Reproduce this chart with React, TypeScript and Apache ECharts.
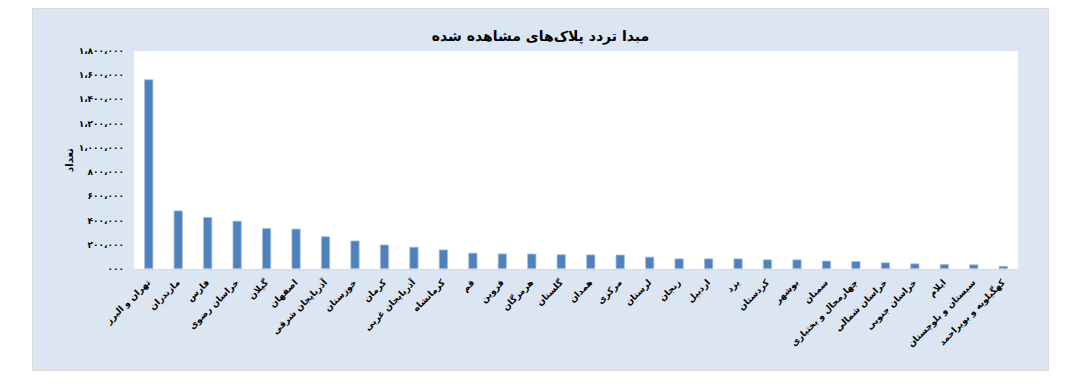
import React, { useEffect, useRef } from "react";
import * as echarts from "echarts";

const chartTitle = "مبدا تردد پلاک‌های مشاهده شده";
const yAxisTitle = "تعداد";

const provinces = [
  "تهران و البرز",
  "مازندران",
  "فارس",
  "خراسان رضوی",
  "گیلان",
  "اصفهان",
  "آذربایجان شرقی",
  "خوزستان",
  "کرمان",
  "آذربایجان غربی",
  "کرمانشاه",
  "قم",
  "قزوین",
  "هرمزگان",
  "گلستان",
  "همدان",
  "مرکزی",
  "لرستان",
  "زنجان",
  "اردبیل",
  "یزد",
  "کردستان",
  "بوشهر",
  "سمنان",
  "چهارمحال و بختیاری",
  "خراسان شمالی",
  "خراسان جنوبی",
  "ایلام",
  "سیستان و بلوچستان",
  "کهگیلویه و بویراحمد",
];

const counts = [
  1566000, 483000, 429000, 398000, 338000, 333000, 270000, 235000, 202000,
  183000, 161000, 134000, 128000, 127000, 121000, 120000, 119000, 101000,
  87000, 87000, 87000, 79000, 79000, 69000, 65000, 55000, 46000, 41000, 38000,
  25000,
];

const yTickValues = [
  0, 200000, 400000, 600000, 800000, 1000000, 1200000, 1400000, 1600000,
  1800000,
];
const yTickLabels = [
  "۰۰۰",
  "۲۰۰،۰۰۰",
  "۴۰۰،۰۰۰",
  "۶۰۰،۰۰۰",
  "۸۰۰،۰۰۰",
  "۱،۰۰۰،۰۰۰",
  "۱،۲۰۰،۰۰۰",
  "۱،۴۰۰،۰۰۰",
  "۱،۶۰۰،۰۰۰",
  "۱،۸۰۰،۰۰۰",
];

const FONT = "'DejaVu Sans', 'Noto Sans', sans-serif";

export default function App() {
  const ref = useRef<HTMLDivElement>(null);

  useEffect(() => {
    if (!ref.current) return;
    const chart = echarts.init(ref.current, null, { renderer: "svg" });
    chart.setOption({
      animation: false,
      backgroundColor: "#dce6f2",
      title: {
        text: chartTitle,
        left: "center",
        top: 15,
        textStyle: {
          fontFamily: FONT,
          fontSize: 14,
          fontWeight: "bold",
          color: "#000",
        },
      },
      grid: {
        left: 101,
        right: 30,
        top: 42,
        bottom: 101,
        show: true,
        backgroundColor: "#ffffff",
        borderWidth: 0,
      },
      xAxis: {
        type: "category",
        data: provinces,
        axisLine: { show: true, lineStyle: { color: "#d9d9d9", width: 1 } },
        axisTick: { show: false },
        axisLabel: {
          interval: 0,
          rotate: 45,
          fontFamily: FONT,
          fontSize: 9,
          fontWeight: "bold",
          color: "#000",
          margin: 12,
        },
      },
      yAxis: {
        type: "value",
        min: 0,
        max: 1800000,
        interval: 200000,
        name: yAxisTitle,
        nameLocation: "middle",
        nameGap: 60,
        nameMoveOverlap: false,
        nameRotate: 90,
        nameTextStyle: {
          fontFamily: FONT,
          fontSize: 10,
          fontWeight: "bold",
          color: "#000",
        },
        axisLine: { show: false },
        axisTick: { show: false },
        splitLine: { show: false },
        axisLabel: {
          fontFamily: FONT,
          fontSize: 9,
          fontWeight: "bold",
          color: "#000",
          margin: 10,
          formatter: (v: number) => {
            const i = yTickValues.indexOf(v);
            return i >= 0 ? yTickLabels[i] : "";
          },
        },
      },
      series: [
        {
          type: "bar",
          data: counts,
          barWidth: "31%",
          itemStyle: {
            color: "#4f81bd",
            borderColor: "#a9c0dc",
            borderWidth: 0.8,
          },
        },
      ],
    });
    return () => chart.dispose();
  }, []);

  return (
    <div
      ref={ref}
      style={{
        position: "absolute",
        left: 32,
        top: 8,
        width: 1017,
        height: 363,
        boxSizing: "border-box",
        border: "1px solid #d9d9d9",
      }}
    />
  );
}
